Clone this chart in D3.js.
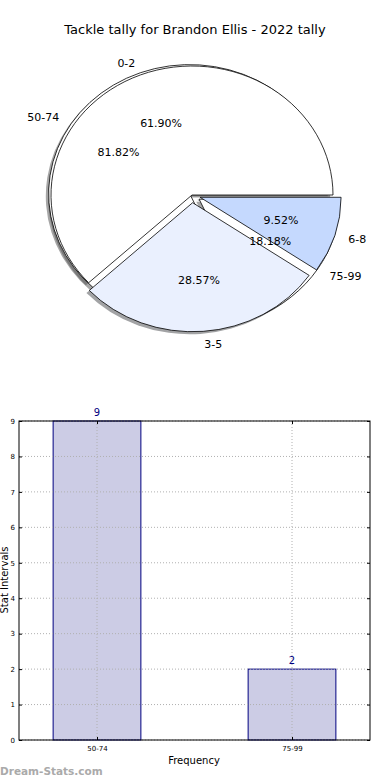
<!DOCTYPE html>
<html><head><meta charset="utf-8">
<script src="https://cdn.jsdelivr.net/npm/d3@7"></script>
<style>body{margin:0;background:#fff}svg{display:block;font-family:"DejaVu Sans",sans-serif}</style>
</head><body>
<script>
// ---- data ----
const title = "Tackle tally for Brandon Ellis - 2022 tally";
const pieCatsA = ["0-2", "3-5", "6-8"];
const pieValsA = [13, 6, 2];
const pieCatsB = ["50-74", "75-99"];
const pieValsB = [9, 2];
const barCats = ["50-74", "75-99"];
const barVals = [9, 2];
const yTicks = [0, 1, 2, 3, 4, 5, 6, 7, 8, 9];

// ---- styles ----
const pieColorsA = ["#ffffff", "#eaf0fe", "#c5d9fe"];
const pieColorsB = ["#ffffff", "#ffffff"];
const explodeA = [0, 0.06, 0.06];
const explodeB = [0.02, 0.06];

const W = 390, H = 780;
const svg = d3.select("body").append("svg").attr("width", W).attr("height", H);

svg.append("text").attr("x", 195).attr("y", 34).attr("text-anchor", "middle")
  .attr("font-size", 13).text(title);

// ---- pies ----
const cx = 192, cy = 195, R = 141, RY = 129, sy = RY / R;
const root = svg.append("g").attr("transform", `translate(${cx},${cy})`);
const shadowLayer = root.append("g").attr("transform", `scale(1,${sy})`);
const wedgeLayer = root.append("g").attr("transform", `scale(1,${sy})`);
const textLayer = root.append("g");
const arc = d3.arc().innerRadius(0).outerRadius(R);

function drawPie(cats, vals, colors, explode) {
  const total = d3.sum(vals);
  const arcs = d3.pie().sort(null).startAngle(Math.PI / 2).endAngle(Math.PI / 2 - 2 * Math.PI)(vals);
  arcs.forEach((a, i) => {
    const mid = (a.startAngle + a.endAngle) / 2;
    const ux = Math.sin(mid), uy = -Math.cos(mid);
    const ox = explode[i] * R * ux, oy = explode[i] * R * uy;
    const c = d3.rgb(colors[i]);
    shadowLayer.append("path").attr("d", arc(a))
      .attr("transform", `translate(${ox - 0.02 * R},${oy + 0.02 * R})`)
      .attr("fill", d3.rgb(c.r * 0.3, c.g * 0.3, c.b * 0.3)).attr("fill-opacity", 0.5);
    wedgeLayer.append("path").attr("d", arc(a))
      .attr("transform", `translate(${ox},${oy})`)
      .attr("fill", colors[i]).attr("stroke", "#000").attr("stroke-width", 0.8)
      .attr("vector-effect", "non-scaling-stroke").attr("stroke-linejoin", "round");
    const lx = (1.1 + explode[i]) * R * ux, ly = (1.1 + explode[i]) * RY * uy;
    textLayer.append("text").attr("x", lx).attr("y", ly).attr("dy", "0.35em")
      .attr("text-anchor", lx < 0 ? "end" : "start").attr("font-size", 11).text(cats[i]);
    const px = (0.6 + explode[i]) * R * ux, py = (0.6 + explode[i]) * RY * uy;
    textLayer.append("text").attr("x", px).attr("y", py).attr("dy", "0.35em")
      .attr("text-anchor", "middle").attr("font-size", 11)
      .text((vals[i] / total * 100).toFixed(2) + "%");
  });
}
drawPie(pieCatsB, pieValsB, pieColorsB, explodeB);
drawPie(pieCatsA, pieValsA, pieColorsA, explodeA);

// ---- bar chart ----
const L = 19, Rt = 370, T = 421, B = 740;
const x = d3.scaleLinear().domain([-0.4, 1.4]).range([L, Rt]);
const y = d3.scaleLinear().domain([0, 9]).range([B, T]);
const bw = 0.45;
const g = svg.append("g");

// bars
barVals.forEach((v, i) => {
  g.append("rect").attr("x", x(i - bw / 2)).attr("y", y(v))
    .attr("width", x(bw) - x(0)).attr("height", y(0) - y(v))
    .attr("fill", "#ccccE5").attr("stroke", "#000080").attr("stroke-width", 1);
});
// grid
yTicks.forEach(t => {
  g.append("line").attr("x1", L).attr("x2", Rt).attr("y1", y(t)).attr("y2", y(t))
    .attr("stroke", "#b0b0b0").attr("stroke-width", 1).attr("stroke-dasharray", "1,2");
});
barCats.forEach((c, i) => {
  g.append("line").attr("x1", x(i)).attr("x2", x(i)).attr("y1", T).attr("y2", B)
    .attr("stroke", "#b0b0b0").attr("stroke-width", 1).attr("stroke-dasharray", "1,2");
});
// frame
g.append("rect").attr("x", L).attr("y", T).attr("width", Rt - L).attr("height", B - T)
  .attr("fill", "none").attr("stroke", "#000").attr("stroke-width", 1);
// axes
const yAxis = d3.axisLeft(y).tickValues(yTicks).tickSize(-3).tickPadding(4);
const ya = svg.append("g").attr("transform", `translate(${L},0)`).call(yAxis);
ya.select(".domain").remove();
ya.selectAll("text").attr("font-size", 7).attr("font-family", "DejaVu Sans");
ya.selectAll("line").attr("stroke", "#000");
const yAxisR = d3.axisRight(y).tickValues(yTicks).tickSize(-3).tickFormat("");
const yr = svg.append("g").attr("transform", `translate(${Rt},0)`).call(yAxisR);
yr.select(".domain").remove();
const xAxis = d3.axisBottom(x).tickValues(barCats.map((c, i) => i)).tickFormat((d) => barCats[d]).tickSize(-3).tickPadding(6);
const xa = svg.append("g").attr("transform", `translate(0,${B})`).call(xAxis);
xa.select(".domain").remove();
xa.selectAll("text").attr("font-size", 7).attr("font-family", "DejaVu Sans");
const xAxisT = d3.axisTop(x).tickValues(barCats.map((c, i) => i)).tickSize(-3).tickFormat("");
const xt = svg.append("g").attr("transform", `translate(0,${T})`).call(xAxisT);
xt.select(".domain").remove();

// value labels
barVals.forEach((v, i) => {
  g.append("text").attr("x", x(i)).attr("y", y(v) - 5).attr("text-anchor", "middle")
    .attr("font-size", 10).attr("fill", "#000080").text(v);
});
svg.append("text").attr("x", 194).attr("y", 764).attr("text-anchor", "middle")
  .attr("font-size", 10).text("Frequency");
svg.append("text").attr("transform", "translate(8,580) rotate(-90)").attr("text-anchor", "middle")
  .attr("font-size", 10).text("Stat Intervals");
svg.append("text").attr("x", 0).attr("y", 775).attr("font-size", 10.5).attr("font-weight", "bold")
  .attr("fill", "#aaaaaa").text("Dream-Stats.com");
</script>
</body></html>
